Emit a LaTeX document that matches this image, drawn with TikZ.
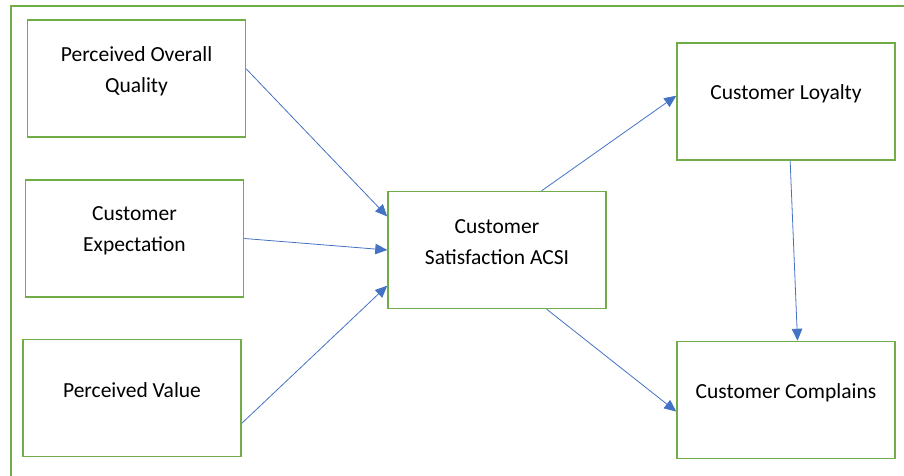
\documentclass[tikz,border=0pt]{standalone}
\usepackage{fontspec}
\setmainfont{Carlito}
\usetikzlibrary{arrows.meta}
\definecolor{boxgreen}{HTML}{70AD47}
\definecolor{arrowblue}{HTML}{4472C4}

\begin{document}
\begin{tikzpicture}[x=1pt,y=-1pt,
	box/.style={draw=boxgreen, line width=1.5pt, minimum width=218pt, minimum height=117pt, inner sep=0pt},
	lbl/.style={align=center, yshift=7.5pt, font=\fontsize{21.5}{31}\selectfont},
	link/.style={draw=arrowblue, line width=0.8pt, -{Triangle[length=12pt,width=10.5pt]}}]
		\useasboundingbox (0,0) rectangle (904,476);
		\clip (0,0) rectangle (904,476);
		\draw[boxgreen, line width=1.5pt] (11,6) rectangle (930,500);
		\node (quality) [box, label={[lbl]center:Perceived Overall\\Quality}] at (136.5,78.5) {};
		\node (expect) [box, label={[lbl]center:Customer\\Expectation}] at (134.5,238.5) {};
		\node (value) [box, label={[lbl]center:Perceived Value}] at (132,398) {};
		\node (satis) [box, label={[lbl]center:Customer\\Satisfaction ACSI}] at (497,250) {};
		\node (loyal) [box, label={[lbl]center:Customer Loyalty}] at (786,101.5) {};
		\node (compl) [box, label={[lbl]center:Customer Complains}] at (786,400) {};
		\draw[link] (quality.5.5) -- (satis.163.6);
		\draw[link] (expect.east) -- (satis.west);
		\draw[link] (value.-13.4) -- (satis.198.7);
		\draw[link] (satis.53) -- (loyal.177.6);
		\draw[link] (satis.-50.7) -- (compl.186.8);
		\draw[link] (loyal.-86.3) -- (compl.79.4);
\end{tikzpicture}
\end{document}
